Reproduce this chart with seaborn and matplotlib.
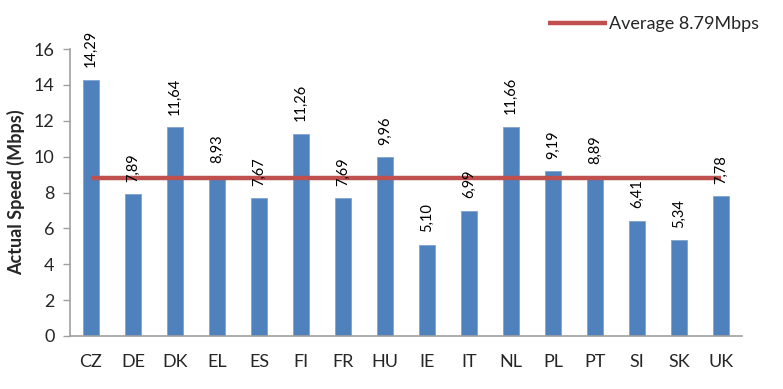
import matplotlib
matplotlib.use("Agg")
import matplotlib.pyplot as plt
import seaborn as sns
import pandas as pd
import numpy as np

countries = ["CZ", "DE", "DK", "EL", "ES", "FI", "FR", "HU", "IE", "IT", "NL", "PL", "PT", "SI", "SK", "UK"]
speeds = [14.29, 7.89, 11.64, 8.93, 7.67, 11.26, 7.69, 9.96, 5.10, 6.99, 11.66, 9.19, 8.89, 6.41, 5.34, 7.78]
average = 8.79
yticks = [0, 2, 4, 6, 8, 10, 12, 14, 16]

sns.set_style("white")
plt.rcParams['font.family'] = ['Lato', 'DejaVu Sans']

df = pd.DataFrame({"country": countries, "speed": speeds})

fig = plt.figure(figsize=(7.83, 3.89), dpi=100)
ax = fig.add_axes([70/783, 1-336/389, 672/783, 287/389])

sns.barplot(data=df, x="country", y="speed", color="#4F81BD", width=0.4,
            saturation=1, ax=ax, edgecolor="#7FA3D0", linewidth=0.6)

n = len(countries)
ax.plot([0, n-1], [average, average], color="#C0504D", lw=3.2,
        label=f"Average {average}Mbps", solid_capstyle="butt", zorder=5)

for i, v in enumerate(speeds):
    ax.text(i, v + 0.7, f"{v:.2f}".replace(".", ","), rotation=90,
            ha="center", va="bottom", fontsize=10.5, color="black", zorder=6)

ax.set_xlim(-0.5, n - 0.5)
ax.set_ylim(0, 16)
ax.set_yticks(yticks)
ax.set_yticklabels([str(t) for t in yticks], fontsize=13)
ax.set_xticks(range(n))
ax.set_xticklabels(countries, fontsize=13)
ax.set_xticks(np.arange(-0.5, n, 1), minor=True)
ax.tick_params(axis="x", which="major", length=0, pad=13)
ax.tick_params(axis="x", which="minor", length=5, color="#A0A0A0", width=1, direction="out")
ax.tick_params(axis="y", length=5, color="#A0A0A0", width=1, direction="out", left=True, pad=6)
ax.set_xlabel("")
ax.set_ylabel("Actual Speed (Mbps)", fontsize=13, fontweight="bold", labelpad=6)

for s in ["top", "right"]:
    ax.spines[s].set_visible(False)
for s in ["left", "bottom"]:
    ax.spines[s].set_color("#A0A0A0")
    ax.spines[s].set_linewidth(1.2)

leg = fig.legend(loc="upper right", bbox_to_anchor=(0.99, 1.0), frameon=False,
                 fontsize=13, handlelength=3.3, handletextpad=0.1)

fig.savefig("out.png", dpi=100)
